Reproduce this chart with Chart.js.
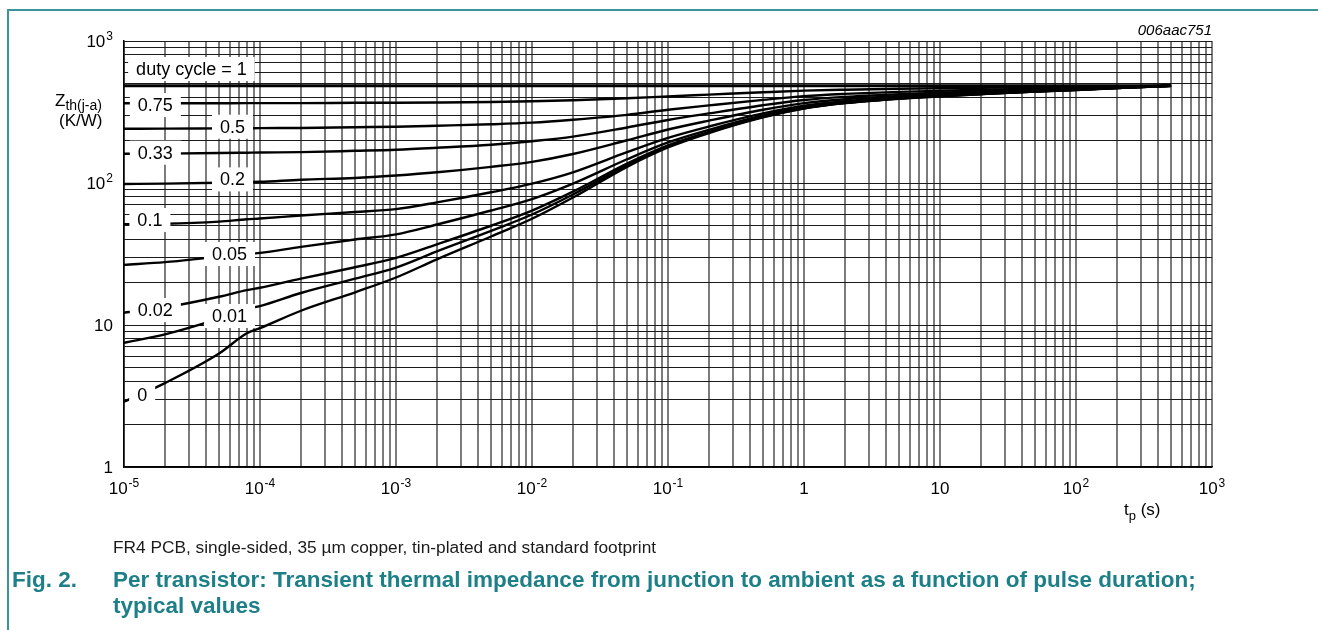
<!DOCTYPE html>
<html>
<head>
<meta charset="utf-8">
<script src="https://cdn.jsdelivr.net/npm/chart.js@4"></script>
<style>
  html, body { margin: 0; padding: 0; background: #fff; }
  #wrap { position: relative; width: 1318px; height: 630px; overflow: hidden; font-family: 'Liberation Sans', Arial, sans-serif; }
  #frameV { position: absolute; left: 7px; top: 9px; width: 2px; height: 640px; background: #3a9599; }
  #frameH { position: absolute; left: 7px; top: 9px; width: 1320px; height: 2px; background: #3a9599; }
  canvas { position: absolute; left: 0; top: 0; }
  .note { position: absolute; left: 113px; top: 537px; font-size: 17.3px; line-height: 20px; color: #1a1a1a; white-space: nowrap; }
  .fig { position: absolute; font-size: 22.5px; line-height: 26px; font-weight: bold; color: #1d7f87; white-space: nowrap; }
</style>
</head>
<body>
<div id="wrap">
  <canvas id="zthChart" width="1318" height="630"></canvas>
  <div id="frameV"></div>
  <div id="frameH"></div>
  <div class="note">FR4 PCB, single-sided, 35 µm copper, tin-plated and standard footprint</div>
  <div class="fig" style="left:12px; top:567px;">Fig. 2.</div>
  <div class="fig" style="left:113px; top:567px;">Per transistor: Transient thermal impedance from junction to ambient as a function of pulse duration;</div>
  <div class="fig" style="left:113px; top:593px;">typical values</div>
</div>
<script>
// pulse duration tp (s)
const tp = [1e-5, 2e-5, 5e-5, 8e-5, 1e-4, 2e-4, 5e-4, 1e-3, 2e-3, 5e-3, 1e-2, 2e-2, 5e-2,
            0.1, 0.2, 0.5, 1, 2, 5, 10, 20, 50, 100, 200, 500];

// Zth(j-a) in K/W, one list per duty cycle
const zDuty1   = [484, 484, 484, 484, 484, 484, 484, 484, 484, 484, 484, 484, 484, 484, 484, 484, 484, 484, 484, 484, 484, 484, 484, 484, 484];
const zDuty075 = [364, 364, 364.5, 365, 365, 365, 367, 367.5, 369, 372, 376, 383, 395, 407, 419, 435.5, 447, 454, 461, 465, 468.5, 473, 476, 479.5, 484];
const zDuty05  = [241, 241.5, 242.5, 243, 243.5, 244, 247, 249, 253, 259, 266, 279, 302, 328, 352, 385, 409, 424, 438, 446, 453, 462, 468, 475, 484];
const zDuty033 = [160.5, 161, 162.5, 163.5, 164, 165, 168.5, 171.5, 177, 186, 197, 212, 246, 278, 309, 353, 384, 404, 422, 433, 442, 454.5, 462.5, 472, 484];
const zDuty02  = [98.5, 99, 100.5, 101.5, 102, 105.5, 108.5, 113, 119, 130, 141, 160, 200, 238, 275, 328, 365, 389, 410, 423, 434, 449, 458, 469.5, 484];
const zDuty01  = [51.3, 51.6, 53.5, 55.5, 56.2, 59, 62.5, 65.5, 73, 86, 99, 119, 165, 208, 250, 309, 350, 377, 401, 415.5, 428, 444, 455, 468, 484];
const zDuty005 = [26.5, 27.7, 30.3, 31.5, 32.2, 35.5, 40, 43.5, 51, 64, 77, 99, 147, 193, 237, 299, 342, 371, 396.5, 412, 425, 442, 453.5, 467, 484];
const zDuty002 = [12.2, 13.3, 15.8, 17.6, 18.3, 21.2, 25.5, 29.7, 37, 50, 64, 87, 137, 184, 229, 294, 338, 367, 394, 409.5, 423, 441, 452.5, 466.5, 484];
const zDuty001 = [7.5, 8.6, 11.1, 13.0, 13.6, 16.8, 21.2, 25.4, 33, 46, 60, 83, 133, 181, 227, 292, 336, 366, 393, 409, 422.5, 440.5, 452, 466, 484];
const zDuty0   = [2.88, 3.9, 6.3, 8.75, 9.5, 12.6, 17.0, 21.6, 29, 42, 56, 79, 130, 178, 225, 290, 335, 365, 392, 408, 422, 440, 452, 466, 484];

const seriesValues = [zDuty1, zDuty075, zDuty05, zDuty033, zDuty02, zDuty01, zDuty005, zDuty002, zDuty001, zDuty0];

// curve labels and where they sit (data coordinates)
const curveLabels = ['duty cycle = 1', '0.75', '0.5', '0.33', '0.2', '0.1', '0.05', '0.02', '0.01', '0'];
const labelT = [3.13e-5, 1.7e-5, 6.28e-5, 1.7e-5, 6.28e-5, 1.55e-5, 5.97e-5, 1.7e-5, 5.97e-5, 1.36e-5];
const labelZ = [635, 354, 249, 163.5, 106, 54.9, 31.6, 12.75, 11.57, 3.21];

// axis tick labels: mantissa + exponent
const xTickVals = [1e-5, 1e-4, 1e-3, 1e-2, 1e-1, 1, 10, 100, 1000];
const xTickExp  = ['-5', '-4', '-3', '-2', '-1', '', '', '2', '3'];
const xTickBase = ['10', '10', '10', '10', '10', '1', '10', '10', '10'];
const yTickVals = [1, 10, 100, 1000];
const yTickBase = ['1', '10', '10', '10'];
const yTickExp  = ['', '', '2', '3'];

const FONT = "'Liberation Sans', Arial, sans-serif";

// log grid: 1..9 in every decade
function gridVals(lo, hi) {
    const out = [];
    for (let e = lo; e < hi; e++) {
        for (let m = 1; m <= 9; m++) out.push(Number((m * Math.pow(10, e)).toPrecision(3)));
    }
    out.push(Math.pow(10, hi));
    return out;
}

function drawPowerLabel(ctx, base, exp, x, y, align) {
    ctx.font = '17px ' + FONT;
    const wb = ctx.measureText(base).width;
    ctx.font = '12px ' + FONT;
    const we = exp ? ctx.measureText(exp).width + 1 : 0;
    const total = wb + we;
    let left = x;
    if (align === 'center') left = x - total / 2;
    if (align === 'right') left = x - total;
    ctx.textAlign = 'left';
    ctx.textBaseline = 'alphabetic';
    ctx.font = '17px ' + FONT;
    ctx.fillText(base, left, y);
    if (exp) {
        ctx.font = '12px ' + FONT;
        ctx.fillText(exp, left + wb + 1, y - 7);
    }
}

const annotationPlugin = {
    id: 'annotations',
    afterDatasetsDraw(chart) {
        const ctx = chart.ctx;
        const xs = chart.scales.x, ys = chart.scales.y;
        ctx.save();
        ctx.fillStyle = '#000';

        // curve labels on white boxes
        ctx.font = '18px ' + FONT;
        curveLabels.forEach((txt, i) => {
            const px = xs.getPixelForValue(labelT[i]);
            const py = ys.getPixelForValue(labelZ[i]);
            const w = ctx.measureText(txt).width + 16;
            ctx.fillStyle = '#fff';
            ctx.fillRect(px - w / 2, py - 12, w, 24);
            ctx.fillStyle = '#000';
            ctx.textAlign = 'center';
            ctx.textBaseline = 'middle';
            ctx.fillText(txt, px, py + 1);
        });

        // tick labels
        xTickVals.forEach((v, i) => {
            drawPowerLabel(ctx, xTickBase[i], xTickExp[i], xs.getPixelForValue(v), chart.chartArea.bottom + 27, 'center');
        });
        yTickVals.forEach((v, i) => {
            drawPowerLabel(ctx, yTickBase[i], yTickExp[i], chart.chartArea.left - 11, ys.getPixelForValue(v) + 6, 'right');
        });

        // axis titles
        ctx.textAlign = 'left';
        ctx.textBaseline = 'alphabetic';
        ctx.font = '17px ' + FONT;
        ctx.fillText('Z', 55, 106);
        const wz = ctx.measureText('Z').width;
        ctx.font = '14px ' + FONT;
        ctx.fillText('th(j-a)', 55 + wz, 110);
        ctx.font = '17px ' + FONT;
        ctx.fillText('(K/W)', 59, 126);

        ctx.fillText('t', 1124, 515);
        const wt = ctx.measureText('t').width;
        ctx.font = '13px ' + FONT;
        ctx.fillText('p', 1124 + wt, 520);
        const wp = ctx.measureText('p').width;
        ctx.font = '17px ' + FONT;
        ctx.fillText(' (s)', 1124 + wt + wp, 515);

        // figure code
        ctx.font = 'italic 15px ' + FONT;
        ctx.textAlign = 'right';
        ctx.fillText('006aac751', chart.chartArea.right, 35);
        ctx.restore();
    }
};

const ctx = document.getElementById('zthChart').getContext('2d');
const chart = new Chart(ctx, {
    type: 'line',
    data: {
        datasets: seriesValues.map((vals, i) => ({
            label: curveLabels[i],
            data: tp.map((t, k) => ({ x: t, y: vals[k] })),
            borderColor: '#000',
            borderWidth: i === 0 ? 2.8 : 2.4,
            pointRadius: 0,
            fill: false,
            cubicInterpolationMode: 'monotone'
        }))
    },
    options: {
        responsive: false,
        animation: false,
        devicePixelRatio: 1,
        layout: { padding: { left: 124, right: 106, top: 41, bottom: 163 } },
        plugins: { legend: { display: false }, tooltip: { enabled: false } },
        scales: {
            x: {
                type: 'logarithmic',
                min: 1e-5,
                max: 1e3,
                afterBuildTicks: axis => { axis.ticks = gridVals(-5, 3).map(v => ({ value: v })); },
                ticks: { display: false },
                grid: { color: '#7c7c7c', lineWidth: 2, drawTicks: false },
                border: { display: true, color: '#000', width: 1.5 }
            },
            y: {
                type: 'logarithmic',
                min: 1,
                max: 1000,
                afterBuildTicks: axis => { axis.ticks = gridVals(0, 3).map(v => ({ value: v })); },
                ticks: { display: false },
                grid: { color: '#1a1a1a', lineWidth: 1, drawTicks: false },
                border: { display: true, color: '#000', width: 1.5 }
            }
        }
    },
    plugins: [annotationPlugin]
});
</script>
</body>
</html>
